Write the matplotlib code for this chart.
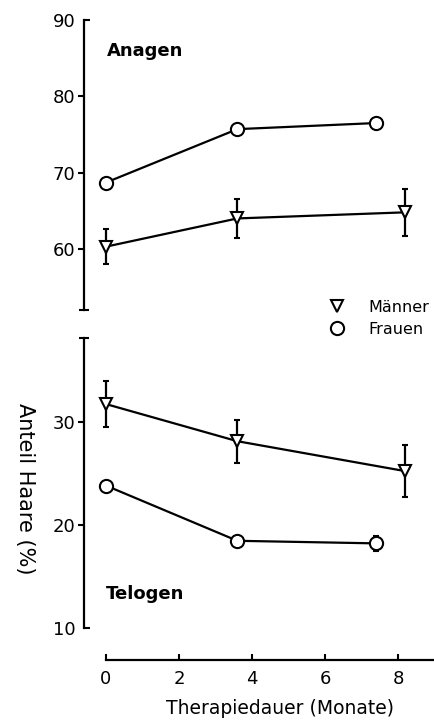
import matplotlib
matplotlib.use('Agg')
import matplotlib.pyplot as plt
from matplotlib.lines import Line2D

# Therapiedauer in Monaten
monate_m = [0, 3.6, 8.2]
monate_f = [0, 3.6, 7.4]

# Anagen (%)
anagen_m = [60.3, 64.0, 64.8]
anagen_m_err = [2.3, 2.5, 3.1]
anagen_f = [68.7, 75.7, 76.5]
anagen_f_err = [0.3, 0.3, 0.4]

# Telogen (%)
telogen_m = [31.7, 28.1, 25.2]
telogen_m_err = [2.2, 2.1, 2.5]
telogen_f = [23.8, 18.45, 18.2]
telogen_f_err = [0.3, 0.3, 0.7]

yticks_top = [60, 70, 80]
yticks_bot = [20, 30]
xticks = [0, 2, 4, 6, 8]

plt.rcParams['font.family'] = 'DejaVu Sans'
fig = plt.figure(figsize=(4.35, 7.25), dpi=100)

ax1 = fig.add_axes([0.1931, 0.5724, 0.8057, 0.4])
ax2 = fig.add_axes([0.1931, 0.08966, 0.8057, 0.44413])

style = dict(color='black', mfc='white', mec='black', mew=1.5, lw=1.6,
             elinewidth=1.6, capsize=2.5, capthick=1.6, clip_on=False)

ax1.errorbar(monate_m, anagen_m, yerr=anagen_m_err, marker='v', ms=9, **style)
ax1.errorbar(monate_f, anagen_f, yerr=anagen_f_err, marker='o', ms=9.5, **style)
ax2.errorbar(monate_m, telogen_m, yerr=telogen_m_err, marker='v', ms=9, **style)
ax2.errorbar(monate_f, telogen_f, yerr=telogen_f_err, marker='o', ms=9.5, **style)

ax1.set_xlim(-0.6, 9.0)
ax2.set_xlim(-0.6, 9.0)
ax1.set_ylim(52, 90)
ax2.set_ylim(6.9, 38.1)

ax1.spines['bottom'].set_visible(False)
ax1.set_xticks([])
ax1.set_yticks(yticks_top)
ax1.set_yticks([90], minor=True)
ax1.set_yticklabels(['90'], minor=True)

ax2.spines['left'].set_bounds(10, 38.1)
ax2.spines['bottom'].set_bounds(0, 9.0)
ax2.set_yticks(yticks_bot)
ax2.set_yticks([10], minor=True)
ax2.set_yticklabels(['10'], minor=True)
ax2.set_xticks(xticks)
ax2.tick_params(axis='x', direction='in', length=4.5, width=1.5, pad=7, labelsize=13)

for ax in (ax1, ax2):
    ax.spines['top'].set_visible(False)
    ax.spines['right'].set_visible(False)
    ax.spines['left'].set_linewidth(1.6)
    ax.spines['bottom'].set_linewidth(1.6)
    ax.tick_params(axis='y', which='major', direction='out', length=4.5, width=1.5,
                   pad=1.5, labelsize=13)
    ax.tick_params(axis='y', which='minor', direction='in', length=4.5, width=1.5,
                   pad=6, labelsize=13, labelleft=True)

# kleine Endmarken an den offenen Achsenenden
sec1 = ax1.secondary_yaxis('left')
sec1.spines['left'].set_visible(False)
sec1.set_yticks([52])
sec1.set_yticklabels([])
sec1.tick_params(direction='inout', length=7, width=1.5)
sec2 = ax2.secondary_yaxis('left')
sec2.spines['left'].set_visible(False)
sec2.set_yticks([38.1])
sec2.set_yticklabels([])
sec2.tick_params(direction='inout', length=7, width=1.5)

ax1.text(0.066, 0.876, 'Anagen', transform=ax1.transAxes, fontsize=13,
         fontweight='bold', ha='left', va='baseline')
ax2.text(0.063, 0.189, 'Telogen', transform=ax2.transAxes, fontsize=13,
         fontweight='bold', ha='left', va='baseline')

fig.text(25 / 435, 1 - 489 / 725, 'Anteil Haare (%)', rotation=270, fontsize=15,
         ha='center', va='center')
fig.text(280 / 435, 1 - 709 / 725, 'Therapiedauer (Monate)', fontsize=13.5,
         ha='center', va='center')

h_m = Line2D([], [], ls='none', marker='v', ms=9, mfc='white', mec='black', mew=1.5)
h_f = Line2D([], [], ls='none', marker='o', ms=9.5, mfc='white', mec='black', mew=1.5)
fig.legend([h_m, h_f], ['Männer', 'Frauen'], loc='center left',
           bbox_to_anchor=(328.7 / 435, 1 - 318.3 / 725), frameon=False,
           fontsize=11.5, handlelength=1.0, handletextpad=1.5, borderpad=0,
           labelspacing=0.45, borderaxespad=0)

fig.savefig('out.png', dpi=100)
